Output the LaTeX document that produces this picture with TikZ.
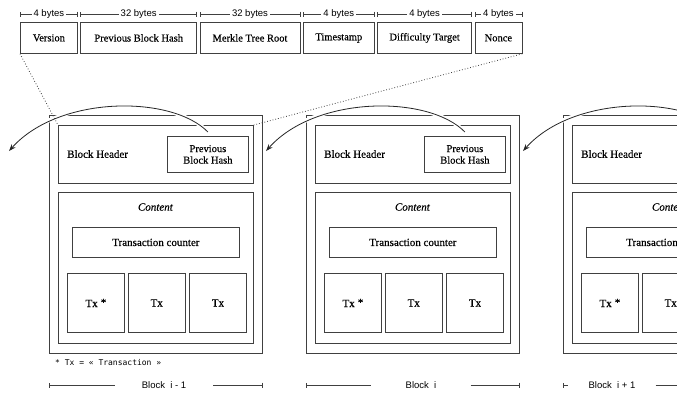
\documentclass[tikz,border=0pt]{standalone}
\usepackage{fontspec}
\setmainfont{Liberation Serif}[FakeBold=0.4]
\setsansfont{Liberation Sans}
\newfontfamily\notefont{DejaVu Sans Mono}
\usetikzlibrary{positioning, calc, arrows.meta}

\tikzset{
  fld/.style={draw=black!75, line width=0.8pt, inner sep=0pt, anchor=north west,
    minimum height=31pt, font=\fontsize{10.5}{12}\selectfont},
  box/.style={draw=black!75, line width=0.8pt, inner sep=0pt, anchor=north west,
    font=\fontsize{11}{12}\selectfont},
  outerbox/.style={draw=black!75, line width=0.9pt, inner sep=0pt, anchor=north west},
  txt/.style={inner sep=0pt, font=\fontsize{11}{12}\selectfont},
  lbl/.style={fill=white, inner sep=2pt, font=\sffamily\fontsize{9.5}{11}\selectfont},
  dim/.style={draw=black!75, line width=0.7pt},
  link/.style={draw=black!85, line width=0.8pt, -{Stealth[length=7pt,width=5pt]},
    preaction={draw=white, line width=4pt, -, shorten >=8pt}},
  dots/.style={draw=black!75, line width=0.8pt, dotted}
}

\begin{document}
\begin{tikzpicture}[x=1pt, y=-1pt]
  \useasboundingbox (0,0) rectangle (677,392);
  \clip (0,0) rectangle (677,392);

  % header fields
  \node[fld, minimum width=57pt] (ver) at (20,22) {Version};
  \node[fld, minimum width=116pt, right=2.5pt of ver] (pbh) {Previous Block Hash};
  \node[fld, minimum width=100pt, right=2.5pt of pbh] (mrk) {Merkle Tree Root};
  \node[fld, minimum width=71pt, right=2.5pt of mrk] (tms) {Timestamp};
  \node[fld, minimum width=94pt, right=2.5pt of tms] (dif) {Difficulty Target};
  \node[fld, minimum width=47pt, right=2.5pt of dif] (non) {Nonce};

  \foreach \f/\t in {ver/4 bytes, pbh/32 bytes, mrk/32 bytes, tms/4 bytes, dif/4 bytes, non/4 bytes}
    \draw[dim, {Bar[width=5pt]}-{Bar[width=5pt]}] ([yshift=8pt]\f.north west) -- node[lbl] {\t} ([yshift=8pt]\f.north east);

  % blocks
  \foreach \i/\L in {1/49, 2/306, 3/563} {
    \node[outerbox, minimum width=213pt, minimum height=238pt] (blk\i) at (\L,115) {};
    \node[box, minimum width=195pt, minimum height=58pt] (hdr\i) at (\L+9,125) {};
    \node[txt, anchor=west] (hdrlbl\i) at (\L+18,154) {Block Header};
    \node[box, minimum width=81pt, minimum height=36pt, align=center,
      font=\fontsize{10.5}{11.5}\selectfont] (ph\i) at (\L+118,136) {Previous\\Block Hash};
    \node[box, minimum width=195pt, minimum height=151pt] (cnt\i) at (\L+9,192) {};
    \node[txt] (cntlbl\i) at (\L+106.5,207) {\textit{Content}};
    \node[box, minimum width=167pt, minimum height=30pt] (ctr\i) at (\L+23,227) {Transaction counter};
    \node[box, minimum width=57pt, minimum height=59pt] (txa\i) at (\L+18,273) {Tx\;\raisebox{1pt}{*}};
    \node[box, minimum width=57pt, minimum height=59pt, right=3pt of txa\i] (txb\i) {Tx};
    \node[box, minimum width=57pt, minimum height=59pt, right=3.5pt of txb\i] (txc\i) {Tx};
    \coordinate (tip\i) at (\L-40,151);
  }

  % links to previous block
  \foreach \i in {1,2,3}
    \draw[link] ([yshift=4pt]ph\i.north) .. controls +(-36,-37) and +(50,-56) .. (tip\i);

  \draw[dots] (ver.south west) -- (hdr1.north west);
  \draw[dots] (non.south east) -- (hdr1.north east);

  \node[anchor=west, inner sep=0pt, font=\notefont\fontsize{8}{10}\selectfont] (note) at (55,363) {* Tx = « Transaction »};

  % block sizes
  \foreach \i/\t/\g/\lab in {1/164/25/{Block~~i - 1}, 2/421/32/{Block~~i}, 3/612/18/{Block~~i + 1}} {
    \node[lbl, fill=none] (bl\i) at (\t,385) {\lab};
    \draw[dim, {Bar[width=5pt]}-] (blk\i.south west |- bl\i.west) -- ([xshift=-\g pt]bl\i.west);
    \draw[dim, -{Bar[width=5pt]}] ([xshift=\g pt]bl\i.east) -- (blk\i.south east |- bl\i.east);
  }
\end{tikzpicture}
\end{document}
